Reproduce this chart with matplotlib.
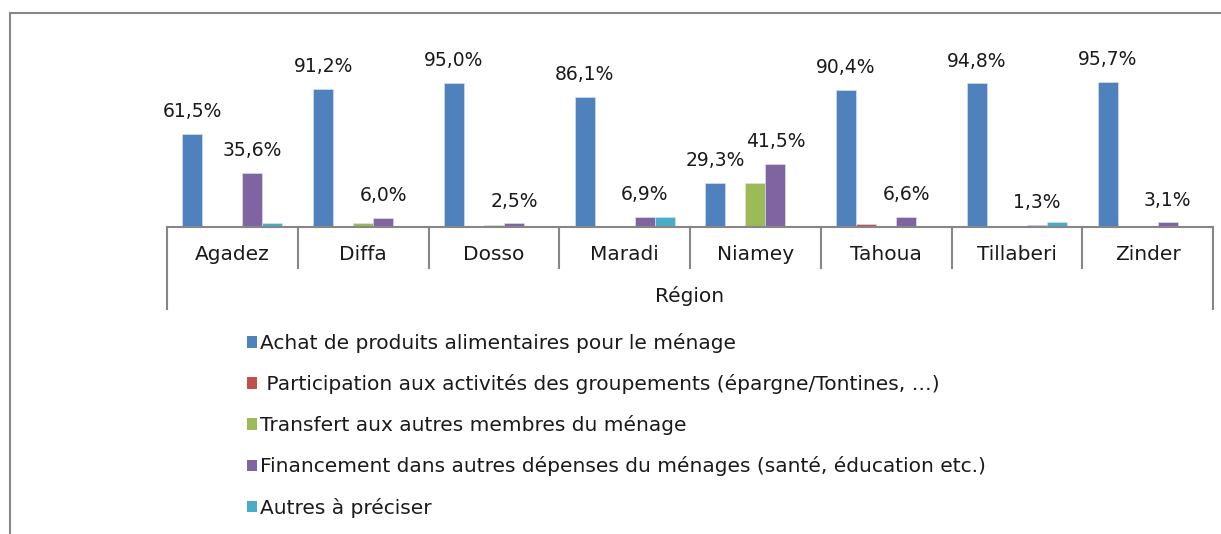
import matplotlib
matplotlib.use("Agg")
import matplotlib.pyplot as plt
from matplotlib.lines import Line2D
from matplotlib.patches import Patch
import numpy as np

plt.rcParams['font.family'] = ['DejaVu Sans']

regions = ["Agadez", "Diffa", "Dosso", "Maradi", "Niamey", "Tahoua", "Tillaberi", "Zinder"]
axis_title = "Région"

series_names = [
    "Achat de produits alimentaires pour le ménage",
    " Participation aux activités des groupements (épargne/Tontines, …)",
    "Transfert aux autres membres du ménage",
    "Financement dans autres dépenses du ménages (santé, éducation etc.)",
    "Autres à préciser",
]
achat = [61.5, 91.2, 95.0, 86.1, 29.3, 90.4, 94.8, 95.7]
participation = [0.0, 0.0, 0.5, 0.5, 0.0, 2.0, 0.5, 0.5]
transfert = [0.0, 2.8, 1.2, 0.0, 29.3, 0.0, 0.0, 0.0]
financement = [35.6, 6.0, 2.5, 6.9, 41.5, 6.6, 1.3, 3.1]
autres = [2.9, 0.0, 0.0, 6.5, 0.0, 0.0, 3.0, 0.0]

series = [achat, participation, transfert, financement, autres]
colors = ["#4F81BD", "#C0504D", "#9BBB59", "#8064A2", "#4BACC6"]
labelled = [True, False, False, True, False]

W, H = 1221, 534
fig = plt.figure(figsize=(W / 100, H / 100), dpi=100)

# axes placement in pixels (left, top-of-plot, right, baseline)
px_left, px_right, px_base, px_top = 167, 1213, 227, 75.5
ax = fig.add_axes([px_left / W, 1 - px_base / H, (px_right - px_left) / W, (px_base - px_top) / H])
ax.set_xlim(-0.5, len(regions) - 0.5)
ax.set_ylim(0, 100)

x = np.arange(len(regions))
bw = 0.153
for i, (vals, col, lab) in enumerate(zip(series, colors, labelled)):
    pos = x + (i - 2) * bw
    ax.bar(pos, vals, width=bw, color=col, edgecolor="#dfe6f0", linewidth=0.4)
    if lab:
        for xp, v in zip(pos, vals):
            ax.annotate(f"{v:.1f}%".replace(".", ","), (xp, v), xytext=(0, 12),
                        textcoords="offset points", ha="center", va="baseline",
                        fontsize=13.5, color="#1a1a1a", annotation_clip=False)

for s in ax.spines.values():
    s.set_visible(False)
ax.set_xticks([])
ax.set_yticks([])
ax.patch.set_alpha(0)

gray = "#868686"
txt_size = 14.5
# baseline
ax.axhline(0, color=gray, lw=1.5, clip_on=False)
# multi-level category axis
trans = ax.get_xaxis_transform()
def ydown(px):
    return -px / (px_base - px_top)
for k in range(len(regions) + 1):
    xb = k - 0.5
    bottom = 309 - px_base if k in (0, len(regions)) else 268 - px_base
    ax.add_line(Line2D([xb, xb], [0, ydown(bottom)], transform=trans, color=gray,
                       lw=1.5, clip_on=False))
for xi, name in zip(x, regions):
    ax.text(xi, ydown(255 - px_base), name, transform=trans, ha="center", va="center",
            fontsize=txt_size, color="#1a1a1a")
ax.text(0.5, ydown(296 - px_base), axis_title, transform=ax.transAxes, ha="center",
        va="center", fontsize=txt_size, color="#1a1a1a")

# outer frame (top and left edges)
fig.add_artist(Line2D([10 / W, 1], [1 - 13 / H, 1 - 13 / H], color=gray, lw=1.5))
fig.add_artist(Line2D([10 / W, 10 / W], [1 - 13 / H, 0], color=gray, lw=1.5))

# legend
handles = [Patch(facecolor=c, edgecolor="none") for c in colors]
leg = fig.legend(handles, series_names, loc="upper left",
                 bbox_to_anchor=(247 / W, 1 - 333 / H), frameon=False,
                 fontsize=txt_size, handlelength=0.5, handleheight=0.5,
                 handletextpad=0.15, labelspacing=1.05, borderaxespad=0, borderpad=0)
for t in leg.get_texts():
    t.set_color("#1a1a1a")

fig.savefig("out.png", dpi=100)
